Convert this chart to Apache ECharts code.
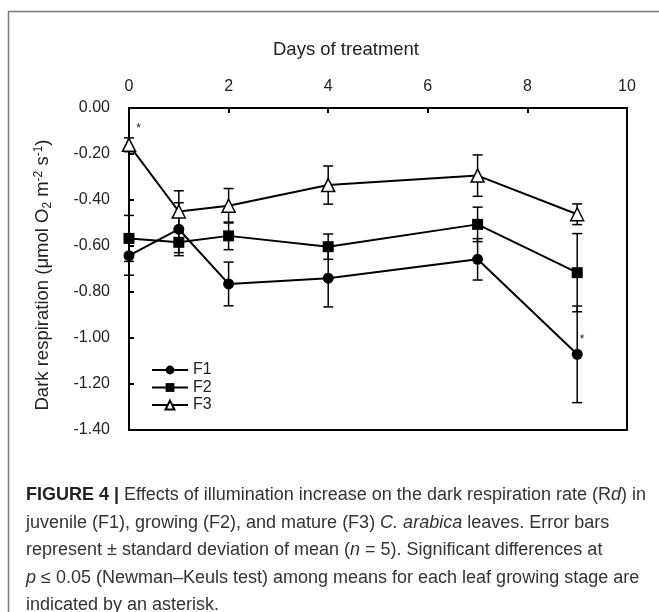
<!DOCTYPE html>
<html>
<head>
<meta charset="utf-8">
<script src="https://cdn.jsdelivr.net/npm/echarts@6/dist/echarts.min.js"></script>
<style>
html,body{margin:0;padding:0;background:#fff;}
#chart{width:659px;height:612px;}
</style>
</head>
<body>
<div id="chart"></div>
<script>
// ---- data ----
const days = [0, 1, 2, 4, 7, 9];
const F1 = [-0.642, -0.527, -0.765, -0.740, -0.658, -1.071];
const F1sd = [0.085, 0.115, 0.095, 0.125, 0.090, 0.210];
const F2 = [-0.567, -0.584, -0.556, -0.603, -0.506, -0.716];
const F2sd = [0.100, 0.045, 0.060, 0.055, 0.075, 0.170];
const F3 = [-0.160, -0.450, -0.425, -0.335, -0.294, -0.462];
const F3sd = [0.030, 0.090, 0.075, 0.083, 0.090, 0.045];
const F1sig = [0, 0, 0, 0, 0, 1];
const F2sig = [0, 0, 0, 0, 0, 0];
const F3sig = [1, 0, 0, 0, 0, 0];
const seriesNames = ['F1', 'F2', 'F3'];
const xTicks = [0, 2, 4, 6, 8, 10];
const yTicks = [0.00, -0.20, -0.40, -0.60, -0.80, -1.00, -1.20, -1.40];

const FONT = "'Liberation Sans', Arial, sans-serif";
const chart = echarts.init(document.getElementById('chart'), null, {renderer: 'canvas'});

function pts(vals, sig, off) {
  return days.map((d, i) => {
    const item = {value: [d, vals[i]]};
    if (sig[i]) {
      item.label = {show: true, formatter: '*', position: 'right', offset: off,
        fontSize: 12, color: '#222', fontFamily: FONT};
    }
    return item;
  });
}
function errData(vals, sd) { return days.map((d, i) => [d, vals[i], sd[i]]); }

function errRender(params, api) {
  const x = api.value(0), y = api.value(1), s = api.value(2);
  const t = api.coord([x, y + s]);
  const b = api.coord([x, y - s]);
  const w = 5;
  const st = {stroke: '#000', lineWidth: 1.5};
  return {type: 'group', children: [
    {type: 'line', shape: {x1: t[0], y1: t[1], x2: b[0], y2: b[1]}, style: st},
    {type: 'line', shape: {x1: t[0] - w, y1: t[1], x2: t[0] + w, y2: t[1]}, style: st},
    {type: 'line', shape: {x1: b[0] - w, y1: b[1], x2: b[0] + w, y2: b[1]}, style: st}
  ]};
}

const lineStyle = {color: '#000', width: 2};
const symbols = ['circle', 'rect', 'triangle'];
const means = [F1, F2, F3];
const sds = [F1sd, F2sd, F3sd];
const sigs = [F1sig, F2sig, F3sig];
const offs = [[-8, -15], [0, 0], [-5, -16]];

const series = [];
for (let k = 0; k < 3; k++) {
  series.push({
    type: 'custom', name: seriesNames[k] + '_err', renderItem: errRender,
    data: errData(means[k], sds[k]), z: 1, silent: true,
    encode: {x: 0, y: 1}
  });
}
for (let k = 0; k < 3; k++) {
  series.push({
    type: 'line', name: seriesNames[k], data: pts(means[k], sigs[k], offs[k]),
    symbol: symbols[k], symbolSize: k === 2 ? 13 : 11,
    showAllSymbol: true,
    lineStyle: lineStyle,
    itemStyle: {color: k === 2 ? '#fff' : '#000', borderColor: '#000', borderWidth: k === 2 ? 1.5 : 0},
    z: 3, animation: false
  });
}

const capRich = {
  b: {fontWeight: 'bold', fontFamily: FONT, fontSize: 18, fill: '#222'},
  i: {fontStyle: 'italic', fontFamily: FONT, fontSize: 18, fill: '#333'}
};
const captionLines = [
  '{b|FIGURE 4 |} Effects of illumination increase on the dark respiration rate (R{i|d}) in',
  'juvenile (F1), growing (F2), and mature (F3) {i|C. arabica} leaves. Error bars',
  'represent ± standard deviation of mean ({i|n} = 5). Significant differences at',
  '{i|p} ≤ 0.05 (Newman–Keuls test) among means for each leaf growing stage are',
  'indicated by an asterisk.'
];

const option = {
  animation: false,
  backgroundColor: '#fff',
  grid: {left: 129, right: 32, top: 108, bottom: 182, show: true, borderColor: '#000', borderWidth: 2, backgroundColor: 'transparent'},
  title: {text: 'Days of treatment', left: 273, top: 40, padding: 0,
    textStyle: {fontFamily: FONT, fontSize: 18.5, fontWeight: 'normal', color: '#222'}},
  legend: {
    data: seriesNames, orient: 'vertical', left: 151, top: 362, padding: 0,
    itemWidth: 36, itemHeight: 11, itemGap: 1.5,
    textStyle: {fontFamily: FONT, fontSize: 16, lineHeight: 16, color: '#222'}
  },
  xAxis: {
    type: 'value', position: 'top', min: 0, max: 10, interval: 2,
    axisLine: {show: true, lineStyle: {color: '#000', width: 2}},
    axisTick: {show: true, inside: true, length: 5, lineStyle: {color: '#000', width: 2}},
    axisLabel: {fontFamily: FONT, fontSize: 16, color: '#222', margin: 13,
      formatter: v => xTicks.includes(v) ? String(v) : ''},
    splitLine: {show: false}
  },
  yAxis: {
    type: 'value', min: -1.4, max: 0, interval: 0.2,
    axisLine: {show: true, lineStyle: {color: '#000', width: 2}},
    axisTick: {show: true, inside: true, length: 5, lineStyle: {color: '#000', width: 2}},
    axisLabel: {fontFamily: FONT, fontSize: 16, color: '#222', margin: 19,
      formatter: v => {
        const m = yTicks.find(t => Math.abs(t - v) < 1e-6);
        return m === undefined ? '' : m.toFixed(2);
      }},
    splitLine: {show: false}
  },
  series: series,
  graphic: [
    {type: 'rect', shape: {x: 8.5, y: 11.5, width: 700, height: 700},
      style: {fill: 'none', stroke: '#777', lineWidth: 1.5}, z: -10, silent: true},
    {type: 'text', x: 43, y: 275, rotation: Math.PI / 2,
      style: {
        text: 'Dark respiration (μmol O{sub|2} m{sup|-2} s{sup|-1})',
        fontFamily: FONT, fontSize: 18.5, fill: '#222',
        align: 'center', verticalAlign: 'middle',
        rich: {
          sub: {fontFamily: FONT, fontSize: 12, fill: '#222', padding: [9, 0, 0, 0]},
          sup: {fontFamily: FONT, fontSize: 12, fill: '#222', padding: [0, 0, 9, 0]}
        }
      }},
    {type: 'group', left: 26, top: 486, children: captionLines.map((t, i) => ({
      type: 'text', x: 0, y: i * 27.6,
      style: {text: t, fontFamily: FONT, fontSize: 18, fill: '#333', rich: capRich}
    }))}
  ]
};
chart.setOption(option);
</script>
</body>
</html>
